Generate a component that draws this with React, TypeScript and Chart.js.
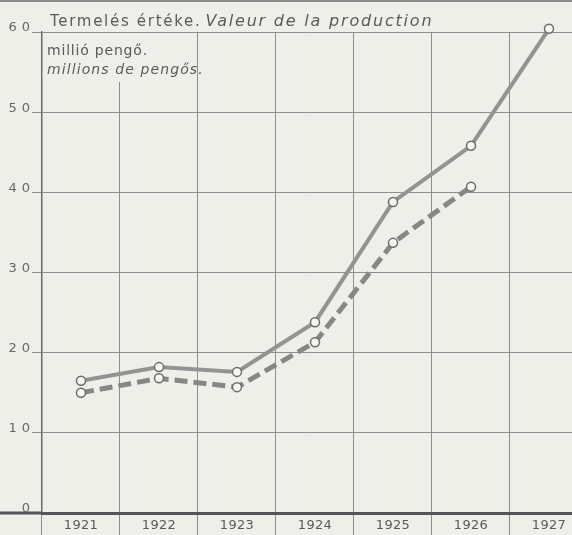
import React, { useEffect, useRef } from "react";
import { Chart, registerables } from "chart.js";

Chart.register(...registerables);

// ---- data ----
const years = [1921, 1922, 1923, 1924, 1925, 1926, 1927];
const yearLabels = ["1921", "1922", "1923", "1924", "1925", "1926", "1927"];
const productionSolid = [16.5, 18.2, 17.6, 23.8, 38.8, 45.8, 60.4];
const productionDashed = [15.0, 16.8, 15.7, 21.3, 33.7, 40.7];
const yTicks = [0, 10, 20, 30, 40, 50, 60];

const titleHu = "Termelés értéke.";
const titleFr = "Valeur de la production";
const unitHu = "millió pengő.";
const unitFr = "millions de pengős.";

const PAPER = "#efefea";
const GRID = "#8e8e8e";
const INK = "#5a5a5a";
const FONT = "DejaVu Sans";

const paperPlugin = {
  id: "paper",
  beforeDraw(chart: any) {
    const { ctx, width, height } = chart;
    ctx.save();
    ctx.fillStyle = PAPER;
    ctx.fillRect(0, 0, width, height);
    ctx.fillStyle = "#8a8a8a";
    ctx.fillRect(0, 0, width, 2);
    ctx.restore();
    // wide spacing for the y-axis labels (drawn before the datasets)
    ctx.letterSpacing = "5px";
  },
  beforeDatasetsDraw(chart: any) {
    const { ctx, chartArea } = chart;
    ctx.save();
    ctx.fillStyle = PAPER;
    ctx.fillRect(chartArea.left + 1, chartArea.top + 1, 153, 49);
    ctx.fillStyle = INK;
    ctx.textBaseline = "alphabetic";
    ctx.textAlign = "left";
    ctx.font = `15px "${FONT}"`;
    ctx.letterSpacing = "1.7px";
    ctx.fillText(titleHu, 50, 26);
    const w = ctx.measureText(titleHu).width;
    ctx.font = `italic 16px "${FONT}"`;
    ctx.letterSpacing = "1.8px";
    ctx.fillText(titleFr, 50 + w + 4, 26);
    ctx.font = `14px "${FONT}"`;
    ctx.letterSpacing = "0.8px";
    ctx.fillText(unitHu, 47, 55);
    ctx.font = `italic 14px "${FONT}"`;
    ctx.letterSpacing = "1.1px";
    ctx.fillText(unitFr, 47, 74);
    const y0 = chart.scales.y.getPixelForValue(0);
    ctx.strokeStyle = "#555";
    ctx.lineWidth = 3;
    ctx.beginPath();
    ctx.moveTo(0, y0);
    ctx.lineTo(chartArea.left, y0);
    ctx.stroke();
    ctx.restore();
  },
  afterDatasetsDraw(chart: any) {
    // x-axis labels are drawn after the datasets (ticks.z = 1)
    chart.ctx.letterSpacing = "0.3px";
  },
  afterDraw(chart: any) {
    chart.ctx.letterSpacing = "0px";
  },
};

export default function App() {
  const ref = useRef<HTMLCanvasElement>(null);

  useEffect(() => {
    if (!ref.current) return;
    const chart = new Chart(ref.current, {
      type: "line",
      data: {
        datasets: [
          {
            label: "Termelés értéke",
            data: years.map((y, i) => ({ x: y, y: productionSolid[i] })),
            borderColor: "#939393",
            borderWidth: 4,
            tension: 0,
            pointRadius: 4.5,
            pointBorderWidth: 1.5,
            pointBackgroundColor: "#f6f6f2",
            pointBorderColor: "#6a6a6a",
            clip: false,
          } as any,
          {
            label: "Termelés értéke (2)",
            data: productionDashed.map((v, i) => ({ x: years[i], y: v })),
            borderColor: "#878787",
            borderWidth: 5,
            borderDash: [13, 6],
            tension: 0,
            pointRadius: 4.5,
            pointBorderWidth: 1.5,
            pointBackgroundColor: "#f6f6f2",
            pointBorderColor: "#6a6a6a",
            clip: false,
          } as any,
        ],
      },
      options: {
        animation: false,
        responsive: false,
        layout: { autoPadding: false, padding: { top: 32, left: 0, right: 0, bottom: 0 } },
        plugins: {
          legend: { display: false },
          tooltip: { enabled: false },
        },
        scales: {
          x: {
            type: "linear",
            min: 1920.5,
            max: 1927.295,
            afterBuildTicks: (s: any) => {
              s.ticks = years.map((v) => ({ value: v }));
            },
            afterFit: (s: any) => {
              s.height = 22;
              s.paddingLeft = 0;
              s.paddingRight = 0;
            },
            grid: {
              offset: true,
              color: GRID,
              lineWidth: 1,
              drawTicks: true,
              tickLength: 22,
              tickColor: GRID,
            },
            border: { display: true, color: "#555", width: 3 },
            ticks: {
              z: 1,
              callback: (_v: any, i: number) => yearLabels[i],
              padding: -17,
              color: INK,
              font: { family: FONT, size: 13 },
              maxRotation: 0,
              autoSkip: false,
            },
          },
          y: {
            min: 0,
            max: 60,
            afterBuildTicks: (s: any) => {
              s.ticks = yTicks.map((v) => ({ value: v }));
            },
            afterFit: (s: any) => {
              s.width = 42;
            },
            grid: {
              color: GRID,
              lineWidth: 1,
              drawTicks: true,
              tickLength: 10,
              tickColor: GRID,
            },
            border: { display: true, color: "#6a6a6a", width: 1.5 },
            ticks: {
              padding: -3,
              labelOffset: -4,
              color: "#666",
              font: { family: FONT, size: 13 },
            },
          },
        },
      } as any,
      plugins: [paperPlugin],
    });
    return () => chart.destroy();
  }, []);

  return (
    <div style={{ position: "absolute", left: 0, top: 0, width: 572, height: 535 }}>
      <canvas ref={ref} width={572} height={535} style={{ display: "block" }} />
    </div>
  );
}
